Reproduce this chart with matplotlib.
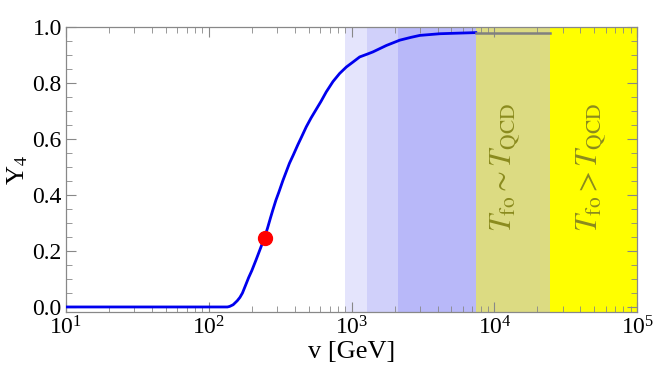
import matplotlib
matplotlib.use("Agg")
import matplotlib.pyplot as plt
from matplotlib.ticker import LogLocator, MultipleLocator, FixedLocator

plt.rcParams['font.family'] = ['Liberation Serif', 'DejaVu Serif']
plt.rcParams['mathtext.fontset'] = 'stix'

# curve
v_vals = [10, 135, 140, 148, 158, 165, 172, 180, 190, 200, 214, 230, 245, 258,
          270, 280, 295, 310, 330, 345, 367, 390, 420, 445, 481, 520, 570, 610,
          664, 740, 824, 918, 1023, 1138, 1300, 1409, 1750, 2173, 2600, 3000,
          4150, 5500, 7400]
y4_vals = [0.0, 0.0, 0.002, 0.008, 0.022, 0.034, 0.05, 0.075, 0.105, 0.13,
           0.168, 0.21, 0.247, 0.283, 0.318, 0.345, 0.382, 0.412, 0.452, 0.478,
           0.514, 0.543, 0.58, 0.607, 0.644, 0.676, 0.71, 0.735, 0.769, 0.806,
           0.835, 0.858, 0.876, 0.894, 0.905, 0.912, 0.935, 0.954, 0.964, 0.971,
           0.977, 0.979, 0.981]

# grey continuation
grey_v = [7400, 24500]
grey_y = [0.981, 0.981]

# benchmark point
point_v = 246
point_y = 0.247

# shaded bands (edges in GeV)
band_edges = [903, 1290, 2100, 7400, 24500, 1e5]
band_colors = ['#e4e4fc', '#d0d0fa', '#b8b8f9', '#dcdb82', '#ffff00']

labels = [r'$T_{\rm fo} \sim T_{\rm QCD}$', r'$T_{\rm fo} > T_{\rm QCD}$']
label_v = [12000, 48000]

fig = plt.figure(figsize=(6.54, 3.77), dpi=100)
ax = fig.add_axes([0.1009, 0.1724, 0.8736, 0.7552])

for i in range(len(band_colors)):
    ax.axvspan(band_edges[i], band_edges[i + 1], ymin=-0.004, ymax=1,
               color=band_colors[i], lw=0, zorder=0)

ax.plot(v_vals, y4_vals, color='#0000ee', lw=2, zorder=3)
ax.plot(grey_v, grey_y, color='#808080', lw=1.8, zorder=3)
ax.plot([point_v], [point_y], 'o', color='#ff0000', ms=10, zorder=4)

for lab, xv in zip(labels, label_v):
    ax.text(xv, 0.5, lab, rotation=90, ha='center', va='center',
            fontsize=22, color='#8b8b1e')

ax.set_xscale('log')
ax.set_xlim(10, 1e5)
ax.set_ylim(-0.018, 1.0)
ax.yaxis.set_major_locator(FixedLocator([0, 0.2, 0.4, 0.6, 0.8, 1.0]))
ax.yaxis.set_minor_locator(MultipleLocator(0.05))
ax.yaxis.set_major_formatter(matplotlib.ticker.FormatStrFormatter('%.1f'))
ax.xaxis.set_major_locator(LogLocator(base=10, numticks=10))
ax.xaxis.set_minor_locator(LogLocator(base=10, subs=range(2, 10), numticks=20))

ax.tick_params(which='both', direction='in', top=True, right=True,
               color='#888888', labelsize=17, pad=3)
ax.tick_params(which='major', length=7, width=0.8)
ax.tick_params(which='minor', length=4, width=0.6)
for s in ax.spines.values():
    s.set_color('#888888')
    s.set_linewidth(0.9)

ax.set_xlabel('v [GeV]', fontsize=19, labelpad=1)
ax.set_ylabel(r'Y$_4$', fontsize=19, labelpad=2)

fig.savefig('out.png', dpi=100)
